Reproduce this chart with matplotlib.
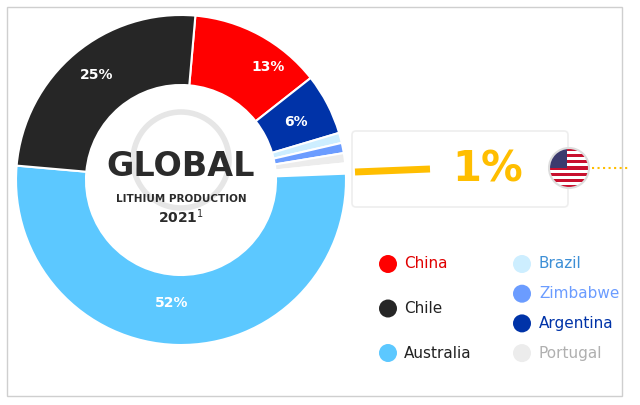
import matplotlib
matplotlib.use("Agg")
import matplotlib.pyplot as plt
from matplotlib.patches import Circle, Rectangle, FancyBboxPatch

labels = ["China", "Argentina", "Brazil", "Zimbabwe", "Portugal", "USA", "Australia", "Chile"]
values = [13, 6, 1, 1, 1, 1, 52, 25]
colors = ["#ff0000", "#0033a8", "#cdeeff", "#6b9cff", "#ececec", "#ffffff", "#5cc8ff", "#262626"]
pct_labels = {"China": "13%", "Argentina": "6%", "Australia": "52%", "Chile": "25%"}
legend_left = [("China", "#ff0000", "#e00000"), ("Chile", "#262626", "#222222"), ("Australia", "#5cc8ff", "#222222")]
legend_right = [("Brazil", "#cdeeff", "#3d8fd6"), ("Zimbabwe", "#6b9cff", "#6b9cff"),
                ("Argentina", "#0033a8", "#0033a8"), ("Portugal", "#ececec", "#b0b0b0")]

H = 405
fig = plt.figure(figsize=(6.4, 4.05), dpi=100)
ax = fig.add_axes([0, 0, 1, 1])
ax.set_xlim(0, 640); ax.set_ylim(0, H); ax.axis("off")

ax.add_patch(Rectangle((7, H - 396), 615, 389, fill=False, ec="#cfcfcf", lw=1))

cx, cy, R = 181, H - 180, 165
wedges, _ = ax.pie(values, colors=colors, startangle=85, counterclock=False, center=(cx, cy),
                   radius=R, wedgeprops=dict(width=70, edgecolor="white", linewidth=1.5), frame=True)
ax.set_xlim(0, 640); ax.set_ylim(0, H); ax.axis("off")
ax.set_aspect("equal")

pos = {"China": (268, 67), "Argentina": (296, 122), "Australia": (172, 303), "Chile": (97, 75)}
for k, t in pct_labels.items():
    x, y = pos[k]
    ax.text(x, H - y, t, color="white", fontsize=10, fontweight="bold", ha="center", va="center")

ax.add_patch(Circle((181, H - 160), 48, fill=False, ec="#e6e6e6", lw=4))
ax.text(181, H - 167, "GLOBAL", fontsize=24, fontweight="bold", color="#2b2b2b", ha="center", va="center")
ax.text(181, H - 199, "LITHIUM PRODUCTION", fontsize=7.5, fontweight="bold", color="#2b2b2b", ha="center", va="center")
ax.text(181, H - 217, "2021$^1$", fontsize=10, fontweight="bold", color="#2b2b2b", ha="center", va="center")

# callout card
ax.add_patch(FancyBboxPatch((352, H - 207), 216, 76, boxstyle="round,pad=0,rounding_size=4",
                            fc="white", ec="#eeeeee", lw=1.2, zorder=3))
ax.plot([355, 430], [H - 172, H - 169], color="#ffbe00", lw=5, solid_capstyle="butt", zorder=4)
ax.text(488, H - 170, "1%", fontsize=30, fontweight="bold", color="#ffbe00", ha="center", va="center", zorder=4)
ax.plot([592, 628], [H - 168, H - 168], color="#ffbe00", lw=1.5, ls=":", zorder=4)
# flag
fx, fy, fr = 569, H - 168, 20
clip = Circle((fx, fy), fr, transform=ax.transData)
for i in range(13):
    c = "#c8102e" if i % 2 == 0 else "white"
    r = Rectangle((fx - fr, fy + fr - (i + 1) * 2 * fr / 13), 2 * fr, 2 * fr / 13, fc=c, ec="none", zorder=5)
    r.set_clip_path(clip); ax.add_patch(r)
can = Rectangle((fx - fr, fy), fr * 0.9, fr, fc="#3c3b6e", ec="none", zorder=6)
can.set_clip_path(clip); ax.add_patch(can)
ax.add_patch(Circle((fx, fy), fr, fill=False, ec="#dddddd", lw=1.5, zorder=7))

for i, (n, mc, tc) in enumerate(legend_left):
    y = H - (264 + i * 44.5)
    ax.add_patch(Circle((388, y), 9, fc=mc, ec="none"))
    ax.text(404, y, n, fontsize=11, color=tc, va="center")
for i, (n, mc, tc) in enumerate(legend_right):
    y = H - (264 + i * 29.7)
    ax.add_patch(Circle((522, y), 9, fc=mc, ec="none"))
    ax.text(539, y, n, fontsize=11, color=tc, va="center")

fig.savefig("out.png", dpi=100)
